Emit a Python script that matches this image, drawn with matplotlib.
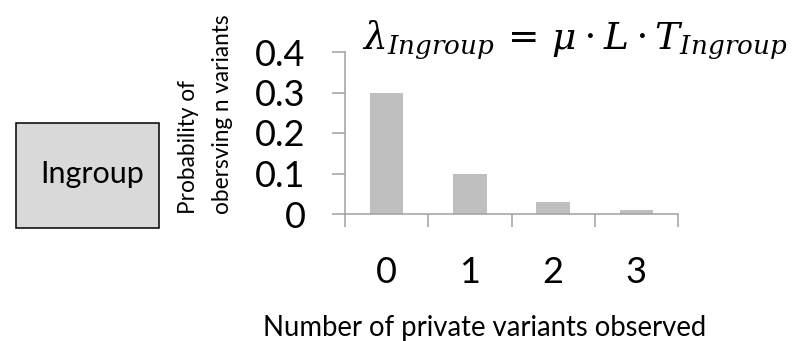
import matplotlib
matplotlib.use("Agg")
import matplotlib.pyplot as plt
import matplotlib.patches as patches

# data
n_variants = [0, 1, 2, 3]
probability = [0.30, 0.10, 0.03, 0.01]
y_ticks = [0, 0.1, 0.2, 0.3, 0.4]
y_tick_labels = ["0", "0.1", "0.2", "0.3", "0.4"]

plt.rcParams['font.family'] = ['Lato', 'DejaVu Sans']
plt.rcParams['mathtext.fontset'] = 'dejavuserif'

axis_color = '#A0A0A0'
bar_color = '#BFBFBF'
W, H = 794, 341

fig = plt.figure(figsize=(7.94, 3.41), dpi=100)
ax = fig.add_axes([345 / W, 1 - 214 / H, (678 - 345) / W, (214 - 52) / H])

ax.bar(n_variants, probability, width=0.4, color=bar_color, zorder=2)

ax.set_xlim(-0.5, 3.5)
ax.set_ylim(0, 0.4)

# y axis
ax.set_yticks(y_ticks)
ax.set_yticklabels(y_tick_labels)
ax.tick_params(axis='y', length=9.5, width=1.1, color=axis_color, pad=19,
               labelsize=26, labelcolor='black')

# x axis : ticks on category boundaries, labels on centres
ax.set_xticks([-0.5, 0.5, 1.5, 2.5, 3.5])
ax.set_xticklabels([])
ax.set_xticks(n_variants, minor=True)
ax.set_xticklabels([str(v) for v in n_variants], minor=True)
ax.tick_params(axis='x', which='major', length=9.5, width=1.1, color=axis_color)
ax.tick_params(axis='x', which='minor', length=0, pad=30, labelsize=26)

for side in ['top', 'right']:
    ax.spines[side].set_visible(False)
for side in ['left', 'bottom']:
    ax.spines[side].set_color(axis_color)
    ax.spines[side].set_linewidth(1.1)

# axis titles
fig.text(484.5 / W, 1 - 336 / H, "Number of private variants observed",
         ha='center', va='baseline', fontsize=19.8)
fig.text(195 / W, 1 - 214 / H, "Probability of",
         rotation=90, rotation_mode='anchor', ha='left', va='baseline', fontsize=16.3)
fig.text(229 / W, 1 - 214 / H, "obersving n variants",
         rotation=90, rotation_mode='anchor', ha='left', va='baseline', fontsize=16.3)

# formula
fig.text(362 / W, 1 - 48 / H,
         r"$\lambda_{Ingroup}\,=\,\mu\cdot L\cdot T_{Ingroup}$",
         ha='left', va='baseline', fontsize=27)

# Ingroup box
box = patches.Rectangle((15.5 / W, 1 - 228 / H), 143.5 / W, 105 / H,
                        transform=fig.transFigure, facecolor='#D9D9D9',
                        edgecolor='black', linewidth=1.1)
fig.patches.append(box)
fig.text(92 / W, 1 - 183 / H, "Ingroup", ha='center', va='baseline', fontsize=22)

plt.savefig("out.png", dpi=100)
plt.close(fig)
